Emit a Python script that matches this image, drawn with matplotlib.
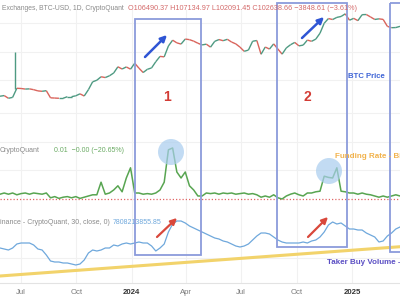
import numpy as np
import pandas as pd
import matplotlib
matplotlib.use("Agg")
import matplotlib.pyplot as plt
import matplotlib.dates as mdates
from matplotlib.collections import LineCollection
from matplotlib.patches import Rectangle, Ellipse

plt.rcParams['font.family'] = ['Liberation Sans', 'DejaVu Sans']

# weekly samples
weeks = pd.date_range('2023-05-27', periods=96, freq='7D')

# BTC close, thousand USD (log scale pane)
btc_price = [26.8, 27.1, 25.9, 26.3, 30.6, 30.5, 30.2, 30.3, 29.9, 29.3, 29.1, 29.4,
             26.1, 26.0, 25.9, 25.9, 26.6, 26.6, 27.0, 27.9, 26.9, 29.9, 34.1, 35.0,
             37.1, 36.6, 37.7, 39.5, 43.8, 42.2, 43.7, 42.1, 46.5, 42.8, 39.8, 42.0,
             43.0, 47.7, 52.1, 51.7, 62.0, 68.3, 65.3, 64.0, 69.6, 68.9, 67.2, 64.9,
             63.1, 63.9, 60.8, 67.0, 69.0, 67.7, 69.3, 66.2, 64.2, 60.8, 56.7, 57.9,
             67.1, 67.9, 54.0, 60.9, 58.9, 64.2, 58.9, 54.1, 60.0, 63.3, 65.8, 62.1,
             62.9, 68.4, 67.0, 69.5, 76.7, 90.6, 98.0, 96.4, 99.9, 101.4, 106.0, 95.3,
             98.3, 94.6, 104.5, 104.8, 100.6, 96.5, 97.5, 96.6, 86.0, 84.1, 84.3, 86.0]

# funding rate (%)
funding_rate = [0.008, 0.010, 0.008, 0.010, 0.007, 0.009, 0.010, 0.008, 0.010, 0.009, 0.008, 0.010,
                0.002, 0.004, 0.001, 0.003, 0.004, 0.002, 0.004, 0.001, 0.003,
                0.005, 0.007,
                0.007, 0.028, 0.008, 0.010, 0.015, 0.022, 0.012, 0.035, 0.052,
                0.010, 0.010, 0.008, 0.009, 0.008, 0.010, 0.015,
                0.028, 0.082, 0.085, 0.045, 0.035, 0.045, 0.022, 0.015, 0.005, 0.005,
                0.010, 0.009, 0.010, 0.008, 0.010, 0.009, 0.010, 0.008, 0.009, 0.010, 0.008, 0.009,
                0.007, 0.003, 0.005, 0.003, 0.007, 0.002, 0.000, 0.005, 0.008, 0.010, 0.007, 0.005,
                0.010, 0.010, 0.012, 0.013, 0.038, 0.036, 0.035, 0.052, 0.013, 0.012, 0.010, 0.010,
                0.008, 0.010, 0.008, 0.007, 0.005, 0.003, 0.005, 0.003, 0.005, 0.007, 0.005]

# taker buy volume, 30d MA (billions)
taker_buy = [6.34, 6.27, 6.20, 6.34, 6.62, 6.69, 6.69, 6.69, 6.55, 6.27, 6.20, 5.85,
             5.43, 5.36, 5.36, 5.29, 5.29, 5.22, 5.15, 5.22, 5.50, 5.99, 6.20, 6.13,
             6.20, 6.34, 6.34, 6.55, 6.48, 6.62, 6.69, 6.62, 6.69, 6.76, 6.69, 6.69,
             6.48, 6.13, 6.34, 6.62, 7.46, 8.02, 8.23, 8.23, 8.09, 7.88, 7.74, 7.60,
             7.46, 7.32, 7.18, 7.04, 6.97, 6.83, 6.76, 6.62, 6.48, 6.41, 6.48, 6.62,
             6.90, 7.18, 7.39, 7.39, 7.32, 7.11, 6.90, 6.76, 6.69, 6.69, 6.69, 6.69,
             6.76, 6.69, 6.83, 6.90, 7.11, 7.46, 7.95, 8.16, 8.02, 8.09, 7.88, 7.67,
             7.67, 7.60, 7.60, 7.39, 7.25, 7.11, 6.76, 6.83, 7.18, 7.39, 7.67, 7.81]

# the odd long wick in june 2023
wick_dates = pd.to_datetime(['2023-06-21'])
wick_low = [30.0]
wick_high = [56.0]

# yellow support line drawn on the volume pane
trend_dates = pd.to_datetime(['2023-05-01', '2025-04-30'])
trend_values = [4.30, 6.55]

tick_dates = pd.to_datetime(['2023-07-01', '2023-10-01', '2024-01-01', '2024-04-01',
                             '2024-07-01', '2024-10-01', '2025-01-01'])
tick_labels = ['Jul', 'Oct', '2024', 'Apr', 'Jul', 'Oct', '2025']

xmin, xmax = pd.Timestamp('2023-05-27'), pd.Timestamp('2025-03-22')

fig = plt.figure(figsize=(4, 3), dpi=100)
fig.patch.set_facecolor('white')

def pane(top, bottom):
    # pixel rows -> figure fractions
    ax = fig.add_axes([0, 1 - bottom / 300, 1, (bottom - top) / 300])
    ax.set_xlim(xmin, xmax)
    for s in ax.spines.values():
        s.set_visible(False)
    ax.tick_params(length=0, labelleft=False, labelbottom=False)
    ax.set_xticks(tick_dates)
    ax.grid(True, color='#f1f1f1', lw=0.8)
    ax.set_axisbelow(True)
    return ax

# price
ax1 = pane(10, 110)
ax1.set_yscale('log')
ax1.set_ylim(21.3, 113)
ax1.set_yticks([35.2, 56, 91])
ax1.yaxis.set_minor_locator(matplotlib.ticker.NullLocator())
xn = mdates.date2num(weeks)
pts = np.column_stack([xn, btc_price])
segs = np.stack([pts[:-1], pts[1:]], axis=1)
cols = ['#4e9a82' if b >= a else '#d9645c' for a, b in zip(btc_price[:-1], btc_price[1:])]
ax1.add_collection(LineCollection(segs, colors=cols, linewidths=1.0))
ax1.vlines(wick_dates, wick_low, wick_high, color='#4e9a82', lw=1.0)

# funding rate
ax2 = pane(110, 205)
ax2.set_ylim(-0.01, 0.1483)
ax2.set_yticks([0.048, 0.095, 0.143])
ax2.axhline(0, color='#e06666', lw=0.9, ls=(0, (1, 1.6)))
ax2.plot(weeks, funding_rate, color='#58a551', lw=1.1)

# taker buy volume
ax3 = pane(205, 283)
ax3.set_ylim(3.89, 9.35)
ax3.set_yticks([5.64])
ax3.plot(weeks, taker_buy, color='#6fa8dc', lw=0.9)
ax3.plot(trend_dates, trend_values, color='#f2d36b', lw=2.2, solid_capstyle='butt')
ax3.spines['bottom'].set_visible(True)
ax3.spines['bottom'].set_color('#e3e3e3')
ax3.tick_params(labelbottom=True, pad=4, labelsize=5.6, labelcolor='#7a7a7a')
ax3.set_xticklabels(tick_labels)
for lab in ax3.get_xticklabels():
    if lab.get_text().isdigit():
        lab.set_color('#333333')
        lab.set_fontweight('bold')

# overlay for the drawn annotations, in pixel units
ov = fig.add_axes([0, 0, 1, 1], zorder=5)
ov.set_xlim(0, 400)
ov.set_ylim(300, 0)
ov.axis('off')
ov.patch.set_alpha(0)

fs = 5.0
ov.text(2, 8, 'Exchanges, BTC-USD, 1D, CryptoQuant', fontsize=4.9, color='#8a8a8a', va='center')
ov.text(128, 8, 'O106490.37 H107134.97 L102091.45 C102638.66 \u22123848.61 (\u22123.61%)',
        fontsize=5.2, color='#d46a6a', va='center')
ov.text(0, 151, 'CryptoQuant', fontsize=fs, color='#8a8a8a', va='center')
ov.text(54, 151, '0.01  \u22120.00 (\u221220.65%)', fontsize=fs, color='#6aab63', va='center')
ov.text(0, 223, 'inance - CryptoQuant, 30, close, 0)', fontsize=fs, color='#8a8a8a', va='center')
ov.text(113, 223, '7808213855.85', fontsize=fs, color='#6fa8dc', va='center')

box = dict(fill=False, ec='#8b9bdb', lw=1.3)
ov.add_patch(Rectangle((135, 19), 66, 236, **box))
ov.add_patch(Rectangle((277, 3), 70, 244, **box))
ov.add_patch(Rectangle((390, 3), 30, 249, **box))

ov.add_patch(Ellipse((171, 152), 26, 26, color='#a9cdee', alpha=0.7, lw=0))
ov.add_patch(Ellipse((329, 171), 26, 26, color='#a9cdee', alpha=0.7, lw=0))

blue = dict(arrowstyle='-|>', color='#2f55d4', lw=1.8, mutation_scale=9, shrinkA=0, shrinkB=0)
red = dict(arrowstyle='-|>', color='#d9483b', lw=1.6, mutation_scale=9, shrinkA=0, shrinkB=0)
ov.annotate('', xy=(167, 35), xytext=(145, 57), arrowprops=blue)
ov.annotate('', xy=(324, 17), xytext=(302, 38), arrowprops=blue)
ov.annotate('', xy=(177, 218), xytext=(157, 237), arrowprops=red)
ov.annotate('', xy=(328, 217), xytext=(308, 237), arrowprops=red)

ov.text(167, 97, '1', fontsize=10, color='#d33c35', fontweight='bold', ha='center', va='center')
ov.text(307, 97, '2', fontsize=10, color='#d33c35', fontweight='bold', ha='center', va='center')
ov.text(348, 77, 'BTC Price', fontsize=5.6, color='#3d63d6', fontweight='bold', va='center')
# these two run off the right edge in the screenshot as well
ov.text(335, 156, 'Funding Rate - Bi', fontsize=5.8, color='#f2b34d', fontweight='bold', va='center')
ov.text(327, 262, 'Taker Buy Volume -', fontsize=5.8, color='#5b4fc4', fontweight='bold', va='center')

fig.savefig('out.png', dpi=100)
